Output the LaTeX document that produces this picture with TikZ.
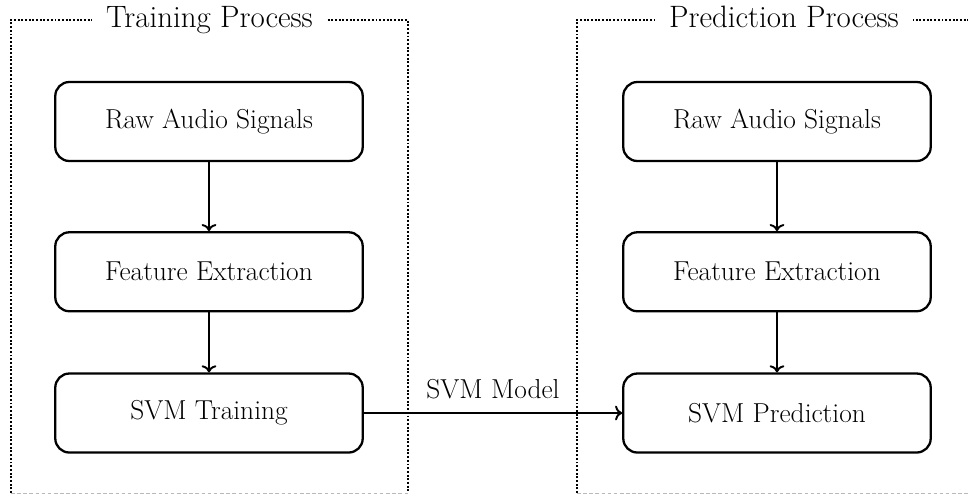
\documentclass[tikz,border=0pt]{standalone}
\usepackage{tikz}
\usepackage{tkz-euclide}
\usepackage[dvipsnames]{xcolor}
\usetikzlibrary{positioning}

\tikzset{
  stage/.style={draw, line width=1.3pt, rounded corners=8pt,
    minimum width=6.15cm, minimum height=1.58cm,
    font=\fontsize{15.6}{18}\selectfont},
  frame/.style={line width=1.6pt, dash pattern=on 1.1pt off 1pt},
  framebase/.style={gray!55, line width=0.5pt, dash pattern=on 2pt off 1.5pt},
  flow/.style={->, line width=1.1pt},
  title/.style={fill=white, inner xsep=8pt, anchor=base,
    font=\fontsize{17.6}{20}\selectfont},
}

\begin{document}
\begin{tikzpicture}[x=0.02cm, y=0.02cm]
    \useasboundingbox (0,0) rectangle (968,-495);
    \clip (0,0) rectangle (968,-495);
    % frames
    \tkzDefPoints{11/-493/A,11/-20/B,408/-20/C,408/-493/D}
    \tkzDefPoints{577/-493/E,577/-20/F,991/-20/G,991/-493/H}
    \draw[frame] (A) -- (B) -- (C) -- (D);
    \draw[frame] (E) -- (F) -- (G) -- (H);
    \draw[framebase] (A) -- (D);
    \draw[framebase] (E) -- (H);
    \node[title] (ttrain) at (209.5,-27) {Training Process};
    \node[title] (tpred) at (784,-27) {Prediction Process};
    % training
    \node[stage] (rawL) at (209,-121.5) {Raw Audio Signals};
    \node[stage, below=1.38cm of rawL] (featL) {Feature Extraction};
    \node[stage, below=1.2cm of featL] (train) {SVM Training};
    % prediction
    \node[stage] (rawR) at (777,-121.5) {Raw Audio Signals};
    \node[stage, below=1.38cm of rawR] (featR) {Feature Extraction};
    \node[stage, below=1.2cm of featR] (pred) {SVM Prediction};
    \draw[flow] (rawL) -- (featL);
    \draw[flow] (featL) -- (train);
    \draw[flow] (rawR) -- (featR);
    \draw[flow] (featR) -- (pred);
    \draw[flow] (train) -- (pred)
      node[midway, above=4pt, font=\fontsize{15.6}{18}\selectfont] (model) {SVM Model};
  \end{tikzpicture}
\end{document}
